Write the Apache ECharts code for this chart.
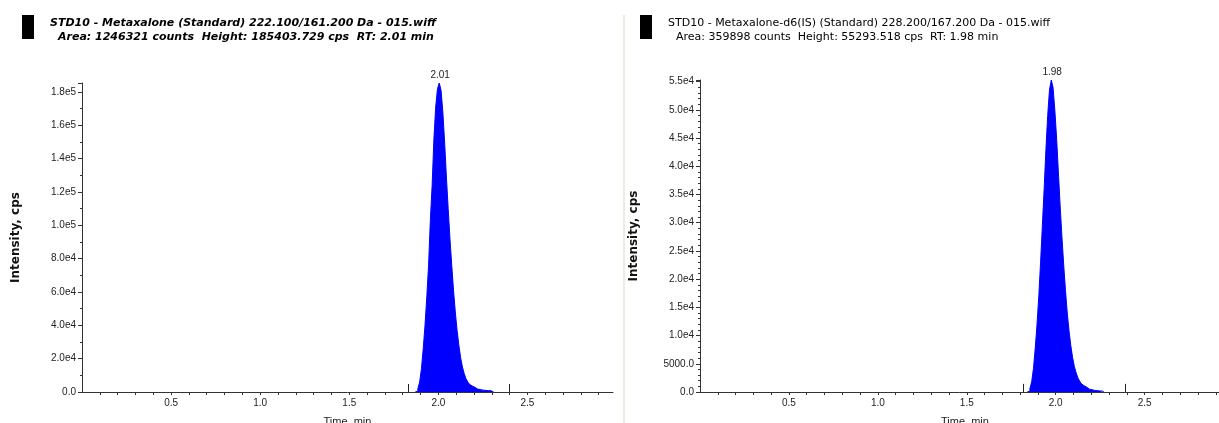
<!DOCTYPE html>
<html>
<head>
<meta charset="utf-8">
<script src="https://cdn.jsdelivr.net/npm/echarts@6/dist/echarts.min.js"></script>
<style>
html,body{margin:0;padding:0;background:#fff;}
#c{width:1219px;height:423px;}
</style>
</head>
<body>
<div id="c"></div>
<script>
// ---- Data ----
const leftTitle1 = 'STD10 - Metaxalone (Standard) 222.100/161.200 Da - 015.wiff';
const leftTitle2 = 'Area: 1246321 counts  Height: 185403.729 cps  RT: 2.01 min';
const rightTitle1 = 'STD10 - Metaxalone-d6(IS) (Standard) 228.200/167.200 Da - 015.wiff';
const rightTitle2 = 'Area: 359898 counts  Height: 55293.518 cps  RT: 1.98 min';

const leftRT = '2.01';
const rightRT = '1.98';
const leftHeight = 185403.729;
const rightHeight = 55293.518;

const leftTime = [1.87,1.88,1.89,1.90,1.91,1.92,1.93,1.94,1.95,1.96,1.97,1.98,1.99,2.00,2.01,2.02,2.03,2.04,2.05,2.06,2.07,2.08,2.09,2.10,2.11,2.12,2.13,2.14,2.15,2.16,2.17,2.18,2.19,2.20,2.21,2.22,2.23,2.24,2.25,2.26,2.27,2.28,2.29,2.30,2.31];
const leftIntensity = [0,500,2000,6000,14000,26000,40000,57000,76000,103000,124000,152000,171000,182000,185403.729,181000,168000,150000,129000,110000,92000,76000,61000,48000,37000,28000,20500,15000,11000,8000,6000,4600,3600,2800,2200,1800,1500,1300,1100,1000,900,850,800,750,0];

const rightTime = [1.84,1.85,1.86,1.87,1.88,1.89,1.90,1.91,1.92,1.93,1.94,1.95,1.96,1.97,1.98,1.99,2.00,2.01,2.02,2.03,2.04,2.05,2.06,2.07,2.08,2.09,2.10,2.11,2.12,2.13,2.14,2.15,2.16,2.17,2.18,2.19,2.20,2.21,2.22,2.23,2.24,2.25,2.26,2.27];
const rightIntensity = [0,150,600,1800,4200,7800,12000,17000,23000,29500,36000,43000,49000,53500,55293.518,54000,50000,45000,39000,33000,27500,22500,18000,14000,10800,8200,6100,4500,3400,2500,1900,1450,1100,850,650,500,400,330,280,240,210,190,170,0];

// integration boundaries (min)
const leftBounds = [1.83, 2.40];
const rightBounds = [1.82, 2.39];

// tick labels
const xTickValues = [0.5, 1.0, 1.5, 2.0, 2.5];
const xTickLabels = ['0.5', '1.0', '1.5', '2.0', '2.5'];
const leftYInterval = 20000;
const leftYLabels = ['0.0','2.0e4','4.0e4','6.0e4','8.0e4','1.0e5','1.2e5','1.4e5','1.6e5','1.8e5'];
const rightYInterval = 5000;
const rightYLabels = ['0.0','5000.0','1.0e4','1.5e4','2.0e4','2.5e4','3.0e4','3.5e4','4.0e4','4.5e4','5.0e4','5.5e4'];

const xMin = 0, xMax = 2.98;
const xName = 'Time, min';
const yName = 'Intensity, cps';

// ---- Chart ----
const FONT = '"Liberation Sans", Arial, sans-serif';
const TICK_FONT = '"Liberation Sans Narrow", "Liberation Sans", Arial, sans-serif';
const WIDE_FONT = '"DejaVu Sans", "Liberation Sans", sans-serif';
const AXIS_COLOR = '#333';
const LABEL_COLOR = '#222';
const BLUE = '#0000ff';

function xFormatter(v) {
  for (let i = 0; i < xTickValues.length; i++) {
    if (Math.abs(v - xTickValues[i]) < 1e-6) return xTickLabels[i];
  }
  return '';
}
function yFormatterFactory(interval, labels) {
  return function (v) {
    const i = Math.round(v / interval);
    if (Math.abs(v - i * interval) > 1e-6) return '';
    return labels[i] !== undefined ? labels[i] : '';
  };
}
function seriesData(times, vals) {
  return times.map((t, i) => [t, vals[i]]);
}
function apexPoint(times, vals, rt) {
  let maxI = 0;
  vals.forEach((v, i) => { if (v > vals[maxI]) maxI = i; });
  return {
    symbol: 'circle', symbolSize: 1, silent: true,
    itemStyle: { color: 'rgba(0,0,0,0)' },
    label: { show: true, position: 'top', distance: 2, formatter: rt, color: LABEL_COLOR, fontSize: 10, fontFamily: FONT },
    data: [{ coord: [times[maxI], vals[maxI]] }]
  };
}
function boundLines(bounds, ymax) {
  const h = ymax * 0.026;
  return bounds.map(b => [{ coord: [b, 0] }, { coord: [b, h] }]);
}

function xAxisCfg(gridIndex) {
  return {
    type: 'value', gridIndex, min: xMin, max: xMax, interval: 0.1,
    name: xName, nameLocation: 'middle', nameGap: 24,
    nameTextStyle: { color: LABEL_COLOR, fontSize: 11, fontFamily: FONT },
    axisLine: { show: true, onZero: false, lineStyle: { color: AXIS_COLOR, width: 1 } },
    axisTick: { show: true, length: 3, inside: false, lineStyle: { color: AXIS_COLOR } },
    axisLabel: { show: true, margin: 6, formatter: xFormatter, color: LABEL_COLOR, fontSize: 10, fontFamily: TICK_FONT, showMinLabel: false, showMaxLabel: false },
    splitLine: { show: false }
  };
}
function yAxisCfg(gridIndex, ymax, interval, labels, minorSplit) {
  return {
    type: 'value', gridIndex, min: 0, max: ymax, interval,
    name: yName, nameLocation: 'middle', nameGap: 60,
    nameTextStyle: { color: '#111', fontSize: 12, fontWeight: 'bold', fontFamily: WIDE_FONT },
    axisLine: { show: true, lineStyle: { color: AXIS_COLOR, width: 1 } },
    axisTick: { show: true, length: 4, lineStyle: { color: AXIS_COLOR } },
    minorTick: { show: true, splitNumber: minorSplit, length: 2, lineStyle: { color: AXIS_COLOR } },
    axisLabel: { show: true, margin: 6, formatter: yFormatterFactory(interval, labels), color: LABEL_COLOR, fontSize: 10, fontFamily: TICK_FONT },
    splitLine: { show: false }
  };
}

const chart = echarts.init(document.getElementById('c'), null, { renderer: 'canvas' });
chart.setOption({
  animation: false,
  backgroundColor: '#fff',
  grid: [
    { left: 82, top: 83, width: 531, height: 309, outerBoundsMode: 'none', containLabel: false },
    { left: 700, top: 80, width: 530, height: 312, outerBoundsMode: 'none', containLabel: false }
  ],
  xAxis: [xAxisCfg(0), xAxisCfg(1)],
  yAxis: [
    yAxisCfg(0, leftHeight, leftYInterval, leftYLabels, 2),
    yAxisCfg(1, rightHeight, rightYInterval, rightYLabels, 5)
  ],
  series: [
    {
      type: 'line', xAxisIndex: 0, yAxisIndex: 0, step: 'middle', symbol: 'none',
      data: seriesData(leftTime, leftIntensity),
      lineStyle: { color: BLUE, width: 1 }, areaStyle: { color: BLUE, opacity: 1 },
      markPoint: apexPoint(leftTime, leftIntensity, leftRT),
      markLine: { silent: true, symbol: 'none', label: { show: false }, lineStyle: { color: '#222', width: 1, type: 'solid' }, data: boundLines(leftBounds, leftHeight) }
    },
    {
      type: 'line', xAxisIndex: 1, yAxisIndex: 1, step: 'middle', symbol: 'none',
      data: seriesData(rightTime, rightIntensity),
      lineStyle: { color: BLUE, width: 1 }, areaStyle: { color: BLUE, opacity: 1 },
      markPoint: apexPoint(rightTime, rightIntensity, rightRT),
      markLine: { silent: true, symbol: 'none', label: { show: false }, lineStyle: { color: '#222', width: 1, type: 'solid' }, data: boundLines(rightBounds, rightHeight) }
    }
  ],
  graphic: [
    { type: 'rect', shape: { x: 22, y: 15, width: 12, height: 24 }, style: { fill: '#000' } },
    { type: 'rect', shape: { x: 640, y: 15, width: 12, height: 24 }, style: { fill: '#000' } },
    { type: 'line', shape: { x1: 624, y1: 15, x2: 624, y2: 423 }, style: { stroke: '#f1ebdf', lineWidth: 2 } },
    { type: 'text', x: 50, y: 23, style: { text: leftTitle1, font: 'italic bold 11px ' + WIDE_FONT, fill: '#000', textVerticalAlign: 'middle' } },
    { type: 'text', x: 58, y: 37, style: { text: leftTitle2, font: 'italic bold 11px ' + WIDE_FONT, fill: '#000', textVerticalAlign: 'middle' } },
    { type: 'text', x: 668, y: 23, style: { text: rightTitle1, font: '11px ' + WIDE_FONT, fill: '#000', textVerticalAlign: 'middle' } },
    { type: 'text', x: 676, y: 37, style: { text: rightTitle2, font: '11px ' + WIDE_FONT, fill: '#000', textVerticalAlign: 'middle' } }
  ]
});
</script>
</body>
</html>
